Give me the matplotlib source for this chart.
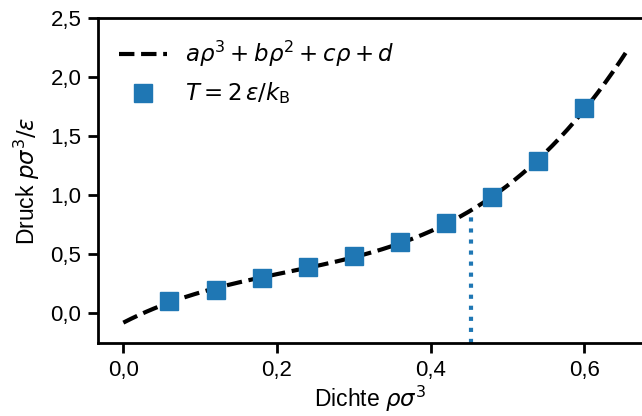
import numpy as np
import matplotlib
matplotlib.use("Agg")
import matplotlib.pyplot as plt
from matplotlib.ticker import FuncFormatter

plt.rcParams["font.family"] = ["Liberation Sans", "DejaVu Sans"]
plt.rcParams["mathtext.fontset"] = "dejavusans"

# simulated points at T = 2 eps/kB
rho = np.array([0.06, 0.12, 0.18, 0.24, 0.30, 0.36, 0.42, 0.48, 0.54, 0.60])
p = np.array([0.102, 0.203, 0.297, 0.390, 0.483, 0.602, 0.763, 0.983, 1.288, 1.737])

# cubic fit a*rho^3 + b*rho^2 + c*rho + d
coef = np.polyfit(rho, p, 3)
rho_fit = np.linspace(0.0, 0.657, 200)
p_fit = np.polyval(coef, rho_fit)

rho_mark = 0.452
p_mark = 0.861

FS = 16.5
fig = plt.figure(figsize=(6.42, 4.16), dpi=100)
ax = fig.add_axes([0.1526, 0.1755, 0.8474, 0.7805])

ax.plot(rho_fit, p_fit, color="black", ls="--", lw=3.0,
        label=r"$a\rho^3 + b\rho^2 + c\rho + d$")
ax.plot(rho, p, ls="none", marker="s", ms=12.5, color="#1f77b4",
        label=r"$T = 2\,\varepsilon/k_\mathrm{B}$")
ax.vlines(rho_mark, -0.25, p_mark, color="#1f77b4", ls=":", lw=3.0)

ax.set_xlim(-0.033, 0.675)
ax.set_ylim(-0.25, 2.5)
ax.set_xticks([0.0, 0.2, 0.4, 0.6])
ax.set_yticks([0.0, 0.5, 1.0, 1.5, 2.0, 2.5])
comma = FuncFormatter(lambda v, pos: f"{v:.1f}".replace(".", ","))
ax.xaxis.set_major_formatter(comma)
ax.yaxis.set_major_formatter(comma)

ax.spines["right"].set_visible(False)
for s in ax.spines.values():
    s.set_linewidth(2.0)
ax.tick_params(width=2.0, length=7, labelsize=16, pad=5)

ax.set_xlabel(r"Dichte $\rho\sigma^3$", fontsize=FS, labelpad=2)
ax.set_ylabel(r"Druck $p\sigma^3/\varepsilon$", fontsize=FS, labelpad=6)

ax.legend(loc="upper left", frameon=False, fontsize=FS, handlelength=2.1,
          borderaxespad=0.5, labelspacing=0.5)

fig.savefig("out.png", dpi=100)
